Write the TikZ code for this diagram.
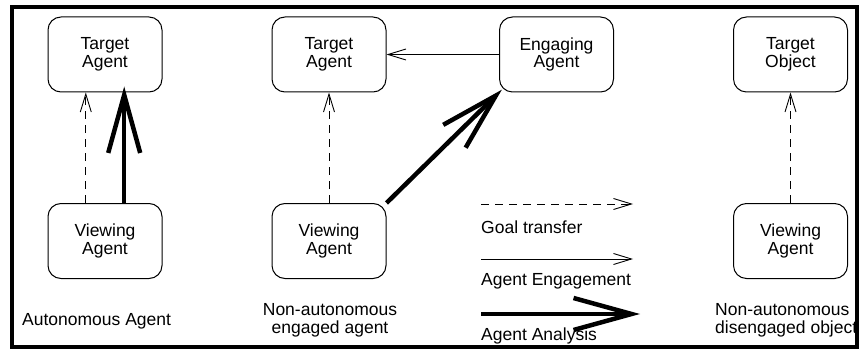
\documentclass[tikz,border=0pt]{standalone}
\usepackage{fontspec}
\setmainfont{Liberation Sans}
\usetikzlibrary{arrows.meta,calc}
\begin{document}
\begin{tikzpicture}[x=1pt,y=-1pt,
  txt/.style={font=\fontsize{17.5}{17.7}\selectfont},
  box/.style={txt, draw, line width=1pt, rounded corners=13pt, minimum width=114pt, minimum height=75pt, align=center, inner sep=0pt},
  lbl/.style={txt, inner sep=0pt, anchor=west},
  clbl/.style={txt, inner sep=0pt, align=center},
  goal/.style={line width=0.9pt, dash pattern=on 8pt off 6pt, -{Straight Barb[length=18pt,width=11pt]}},
  engage/.style={line width=0.9pt, -{Straight Barb[length=18pt,width=11pt]}},
  analysis/.style={line width=4.5pt, -{Straight Barb[length=58pt,width=32pt]}}
]
\path[use as bounding box] (0,0) rectangle (861,358);

% column 1
\node[box] (t1) at (105,54.5) {Target\\Agent};
\node[box] (v1) at (105,241) {Viewing\\Agent};
\draw[goal] ($(v1.north west)!0.333!(v1.north east)$) -- ($(t1.south west)!0.333!(t1.south east)$);
\draw[analysis, shorten >=-6pt] ($(v1.north west)!0.667!(v1.north east)$) -- ($(t1.south west)!0.667!(t1.south east)$);
\node[lbl] (l1) at (22,321) {Autonomous Agent};

% column 2
\node[box] (t2) at (329,54.5) {Target\\Agent};
\node[box] (e2) at (556.5,54.5) {Engaging\\Agent};
\node[box] (v2) at (329,241) {Viewing\\Agent};
\draw[goal] (v2) -- (t2);
\draw[engage] (e2) -- (t2);
\draw[analysis, shorten >=-4pt] (v2.north east) -- (e2.south west);
\node[clbl] (l2) at (330,320) {Non-autonomous\\engaged agent};

% column 3
\node[box] (t3) at (790.5,54.5) {Target\\Object};
\node[box] (v3) at (790.5,241) {Viewing\\Agent};
\draw[goal] (v3) -- (t3);
\node[clbl, anchor=west, align=left] (l3) at (715,320) {Non-autonomous\\disengaged object};

% legend
\coordinate (g0) at (481,204);
\coordinate (g1) at (633,204);
\coordinate (n0) at (481,259);
\coordinate (n1) at (633,259);
\coordinate (a0) at (481,314);
\coordinate (a1) at (640,314);
\draw[goal] (g0) -- (g1);
\draw[engage] (n0) -- (n1);
\draw[analysis] (a0) -- (a1);
\node[lbl] (lg) at (481,227) {Goal transfer};
\node[lbl] (ln) at (481,281) {Agent Engagement};
\node[lbl] (la) at (481,336) {Agent Analysis};

% frame
\fill[white] (859,0) rectangle (861,358);
\draw[line width=4pt] (12,7) rectangle (857,347);
\end{tikzpicture}
\end{document}
